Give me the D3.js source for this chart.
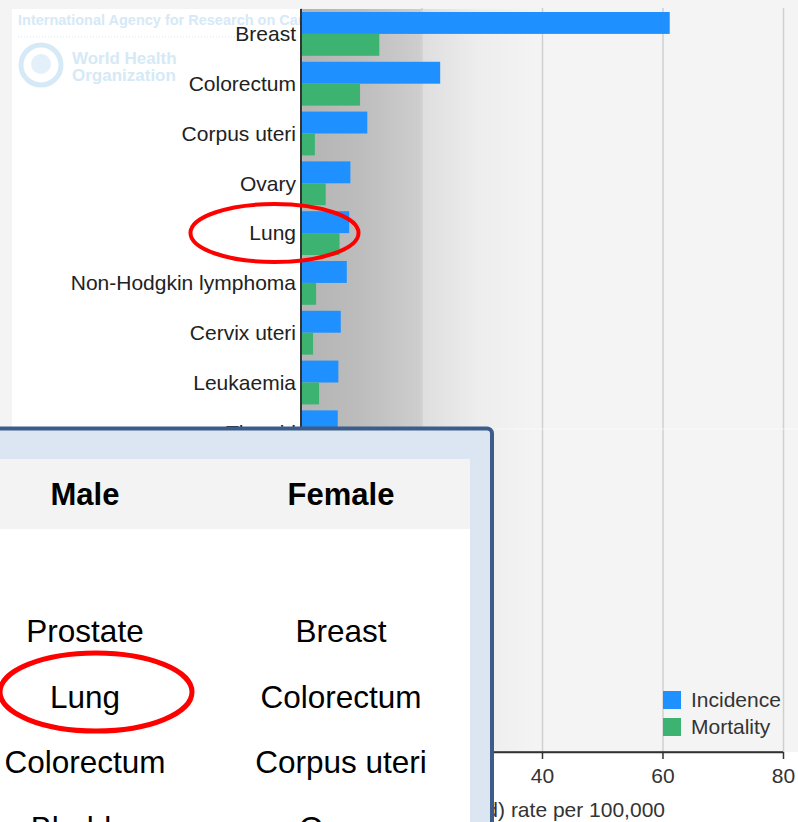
<html>
<head>
<script src="https://d3js.org/d3.v7.min.js"></script>
<style>
  body { margin: 0; background: #f5f5f5; }
  svg { display: block; font-family: "Liberation Sans", Arial, sans-serif; }
  .gridlines .domain { stroke: none; }
  .gridlines line { stroke: #d0d0d0; stroke-width: 1.5px; }
  .x.axis .domain { stroke: #333; stroke-width: 1.5px; }
  .x.axis line { stroke: #333; stroke-width: 1.5px; }
  .x.axis text { fill: #333; font-size: 21px; }
</style>
</head>
<body>
<svg id="chart" width="798" height="822"></svg>
<script>
// chart values
const categories = ["Breast", "Colorectum", "Corpus uteri", "Ovary", "Lung",
                    "Non-Hodgkin lymphoma", "Cervix uteri", "Leukaemia", "Thyroid"];
const incidence = [61.2, 23.1, 11.0, 8.2, 8.0, 7.6, 6.6, 6.2, 6.1];
const mortality = [13.0, 9.8, 2.3, 4.1, 6.4, 2.5, 2.0, 3.0, 0.5];
const series = ["Incidence", "Mortality"];
const xTicks = [0, 20, 40, 60, 80];
const axisTitle = "Age-standardized (World) rate per 100,000";

// table overlay
const tableHeaders = ["Male", "Female"];
const maleSites = ["Prostate", "Lung", "Colorectum", "Bladder"];
const femaleSites = ["Breast", "Colorectum", "Corpus uteri", "Ovary"];

const svg = d3.select("#chart");
const width = +svg.attr("width");
const height = +svg.attr("height");

const plot = { left: 301, right: 783, top: 9, bottom: 752 };
const colors = { Incidence: "#1e90ff", Mortality: "#3cb371" };
const panelRight = 494;

const defs = svg.append("defs");
const grad = defs.append("linearGradient").attr("id", "bg")
  .attr("gradientUnits", "userSpaceOnUse")
  .attr("x1", plot.left).attr("x2", 560).attr("y1", 0).attr("y2", 0);
[[0, "#b3b3b3"], [0.23, "#bdbdbd"], [0.463, "#cecece"], [0.47, "#dedede"],
 [0.68, "#ededed"], [0.93, "#f4f4f4"], [1, "#f4f4f4"]].forEach(s => {
  grad.append("stop").attr("offset", s[0]).attr("stop-color", s[1]);
});
defs.append("clipPath").attr("id", "leftClip")
  .append("rect").attr("x", 0).attr("y", 0).attr("width", plot.left).attr("height", height);
// area below the chart not hidden by the table panel
defs.append("clipPath").attr("id", "belowClip")
  .append("rect").attr("x", panelRight).attr("y", 0).attr("width", width).attr("height", height);

// page backgrounds
svg.append("rect").attr("width", width).attr("height", height).attr("fill", "#f4f4f4");
svg.append("rect").attr("x", 12).attr("y", plot.top).attr("width", plot.left - 12)
  .attr("height", height).attr("fill", "#fff");
svg.append("rect").attr("x", plot.left).attr("y", plot.bottom).attr("width", width - plot.left)
  .attr("height", height - plot.bottom).attr("fill", "#fff");
svg.append("rect").attr("x", plot.left).attr("y", plot.top).attr("width", width - plot.left)
  .attr("height", plot.bottom - plot.top).attr("fill", "url(#bg)");

// faint watermark
const wm = svg.append("g").attr("clip-path", "url(#leftClip)")
  .attr("fill", "#d6e9f6").style("font-weight", "bold");
wm.append("text").attr("x", 18).attr("y", 25).style("font-size", "14.5px")
  .text("International Agency for Research on Cancer");
wm.append("line").attr("x1", 18).attr("x2", 300).attr("y1", 37).attr("y2", 37)
  .attr("stroke", "#d6e9f6").attr("stroke-dasharray", "1,2");
wm.append("circle").attr("cx", 41).attr("cy", 65).attr("r", 20)
  .attr("fill", "none").attr("stroke", "#d6e9f6").attr("stroke-width", 5);
wm.append("circle").attr("cx", 41).attr("cy", 64).attr("r", 10).attr("fill", "#e3f0f9");
wm.append("text").attr("x", 72).attr("y", 64).style("font-size", "17px").text("World Health");
wm.append("text").attr("x", 72).attr("y", 81).style("font-size", "17px").text("Organization");

// scales
const x = d3.scaleLinear().domain([0, 80]).range([plot.left, plot.right]);
const y = d3.scaleBand().domain(categories)
  .range([plot.top, plot.top + categories.length * 49.8])
  .paddingInner(0.12).paddingOuter(0.06);
const ySub = d3.scaleBand().domain(series).range([0, y.bandwidth()]);

// gridlines
svg.append("g").attr("class", "gridlines")
  .attr("transform", `translate(0,${plot.bottom})`)
  .call(d3.axisBottom(x).tickValues(xTicks).tickSize(-(plot.bottom - 8)).tickFormat(""));

// bars
const rows = categories.map((c, i) => ({ cat: c, Incidence: incidence[i], Mortality: mortality[i] }));
const groups = svg.append("g").selectAll("g").data(rows).join("g")
  .attr("transform", d => `translate(0,${y(d.cat)})`);
groups.selectAll("rect").data(d => series.map(s => ({ s: s, v: d[s] })))
  .join("rect")
  .attr("x", x(0))
  .attr("y", d => ySub(d.s))
  .attr("width", d => x(d.v) - x(0))
  .attr("height", ySub.bandwidth())
  .attr("fill", d => colors[d.s]);

// category labels
svg.append("g").selectAll("text").data(categories).join("text")
  .attr("x", 296)
  .attr("y", d => y(d) + y.bandwidth() / 2)
  .attr("dy", "0.35em")
  .attr("text-anchor", "end")
  .attr("fill", "#222")
  .style("font-size", "21px")
  .text(d => d);

// left axis line
svg.append("line").attr("x1", plot.left).attr("x2", plot.left)
  .attr("y1", plot.top).attr("y2", plot.bottom)
  .attr("stroke", "#333").attr("stroke-width", 2);

// x axis (the part left of the panel is hidden by it)
const below = svg.append("g").attr("clip-path", "url(#belowClip)");
below.append("g").attr("class", "x axis")
  .attr("transform", `translate(0,${plot.bottom})`)
  .call(d3.axisBottom(x).tickValues(xTicks.filter(v => x(v) > panelRight))
    .tickSize(7).tickPadding(9).tickSizeOuter(0));
below.append("line").attr("x1", panelRight).attr("x2", plot.right)
  .attr("y1", plot.bottom).attr("y2", plot.bottom).attr("stroke", "#333").attr("stroke-width", 1.5);
below.append("text").attr("x", 665).attr("y", 817).attr("text-anchor", "end")
  .attr("fill", "#333").style("font-size", "21px").text(axisTitle);

// legend
const legend = svg.append("g").selectAll("g").data(series).join("g")
  .attr("transform", (d, i) => `translate(663,${691 + i * 27})`);
legend.append("rect").attr("width", 18).attr("height", 18).attr("fill", d => colors[d]);
legend.append("text").attr("x", 28).attr("y", 16).attr("fill", "#333")
  .style("font-size", "21px").text(d => d);

// faint seam
svg.append("line").attr("x1", 495).attr("x2", width).attr("y1", 429).attr("y2", 429)
  .attr("stroke", "#fff").attr("stroke-opacity", 0.6);

// red ellipse on chart
svg.append("ellipse").attr("cx", 274.5).attr("cy", 233).attr("rx", 84).attr("ry", 29)
  .attr("fill", "none").attr("stroke", "#f00").attr("stroke-width", 4);

// table overlay panel
const panel = svg.append("g");
panel.append("rect").attr("x", -10).attr("y", 428.5).attr("width", 502).attr("height", 420)
  .attr("rx", 5).attr("fill", "#dce6f2").attr("stroke", "#3a5d8a").attr("stroke-width", 4);
panel.append("rect").attr("x", 0).attr("y", 459).attr("width", 470).attr("height", 70)
  .attr("fill", "#f3f3f3");
panel.append("rect").attr("x", 0).attr("y", 529).attr("width", 470).attr("height", 300)
  .attr("fill", "#fff");

const col = d3.scalePoint().domain(tableHeaders).range([85, 341]);
const row = d3.scalePoint().domain(d3.range(maleSites.length)).range([642, 642 + 65.6 * 3]);

panel.selectAll("text.head").data(tableHeaders).join("text")
  .attr("class", "head")
  .attr("x", d => col(d)).attr("y", 505)
  .attr("text-anchor", "middle")
  .style("font-size", "31px").style("font-weight", "bold")
  .text(d => d);

const cells = [];
maleSites.forEach((s, i) => cells.push({ col: "Male", row: i, text: s }));
femaleSites.forEach((s, i) => cells.push({ col: "Female", row: i, text: s }));
panel.selectAll("text.cell").data(cells).join("text")
  .attr("class", "cell")
  .attr("x", d => col(d.col)).attr("y", d => row(d.row))
  .attr("text-anchor", "middle")
  .style("font-size", "31.5px")
  .text(d => d.text);

// red ellipse on table
svg.append("ellipse").attr("cx", 96).attr("cy", 692).attr("rx", 96).attr("ry", 39)
  .attr("fill", "none").attr("stroke", "#f00").attr("stroke-width", 5);
</script>
</body>
</html>
